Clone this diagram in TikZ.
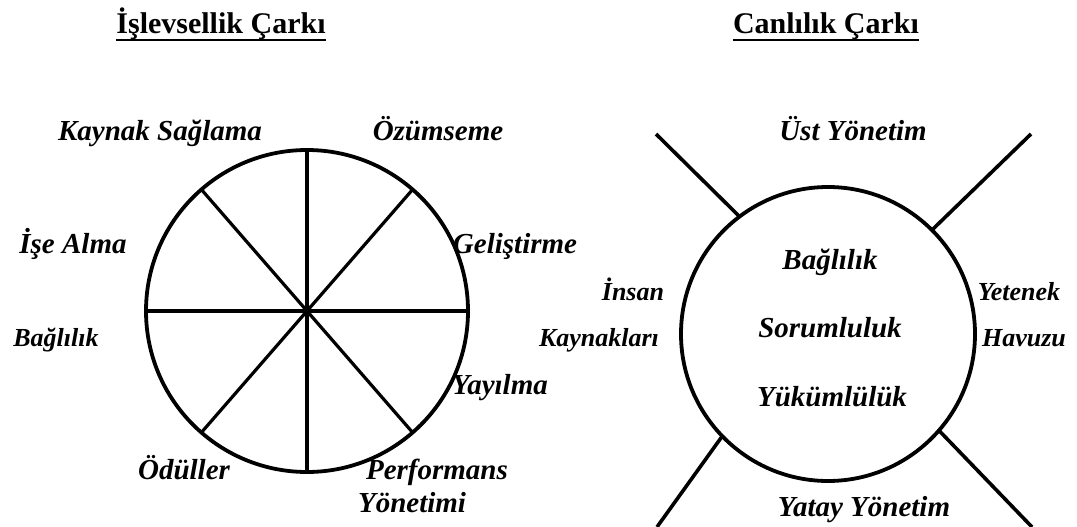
\documentclass[tikz,border=0pt]{standalone}
\usepackage{fontspec}
\setmainfont{Liberation Serif}
\begin{document}
\begin{tikzpicture}[x=1pt,y=-1pt,
  lab/.style={font=\fontsize{29}{29}\selectfont\bfseries\itshape, inner sep=0pt, anchor=base},
  slab/.style={font=\fontsize{26}{26}\selectfont\bfseries\itshape, inner sep=0pt, anchor=base},
  ttl/.style={font=\fontsize{30}{30}\selectfont\bfseries, inner sep=0pt, anchor=base},
  wheel/.style={draw, circle, line width=3.8pt, inner sep=0pt, outer sep=0pt},
  spoke/.style={line width=3.2pt},
  arm/.style={line width=3.6pt},
  uline/.style={line width=2.8pt}]
\useasboundingbox (0,0) rectangle (1077,527);
% titles
\node[ttl] (t1) at (221,34) {İşlevsellik Çarkı};
\node[ttl] (t2) at (826,34) {Canlılık Çarkı};
\draw[uline] ([yshift=-6pt]t1.base west) -- ([yshift=-6pt]t1.base east);
\draw[uline] ([yshift=-6pt]t2.base west) -- ([yshift=-6pt]t2.base east);
% left wheel
\node[wheel, minimum size=322pt] (w1) at (307,311) {};
\draw[spoke] (w1.0) -- (w1.180);
\draw[spoke] (w1.90) -- (w1.270);
\draw[spoke] (w1.49) -- (w1.229);
\draw[spoke] (w1.131) -- (w1.311);
\node[lab] (ks) at (160,140) {Kaynak Sağlama};
\node[lab] (oz) at (438,140) {Özümseme};
\node[lab] (ia) at (73,253) {İşe Alma};
\node[lab] (ge) at (515,253) {Geliştirme};
\node[slab] (bl) at (56,346) {Bağlılık};
\node[lab] (ya) at (500,394) {Yayılma};
\node[lab] (od) at (184,479) {Ödüller};
\node[lab] (pe) at (437,479) {Performans};
\node[lab] (yo) at (412,512) {Yönetimi};
% right wheel
\node[wheel, minimum size=294pt] (w2) at (828,334) {};
\coordinate (e1) at (656,134);
\coordinate (e2) at (1031,134);
\coordinate (e3) at (657,527);
\coordinate (e4) at (1032,527);
\draw[arm] (w2.127) -- (e1);
\draw[arm] (w2.45) -- (e2);
\draw[arm] (w2.224) -- (e3);
\draw[arm] (w2.319) -- (e4);
\node[lab] (us) at (853,140) {Üst Yönetim};
\node[lab] (b2) at (830,269) {Bağlılık};
\node[lab] (so) at (830,337) {Sorumluluk};
\node[lab] (yu) at (832,406) {Yükümlülük};
\node[slab] (in) at (633,300) {İnsan};
\node[slab] (ka) at (599,346) {Kaynakları};
\node[slab] (ye) at (1019,300) {Yetenek};
\node[slab] (ha) at (1024,346) {Havuzu};
\node[lab] (yy) at (864,516) {Yatay Yönetim};
\end{tikzpicture}
\end{document}
